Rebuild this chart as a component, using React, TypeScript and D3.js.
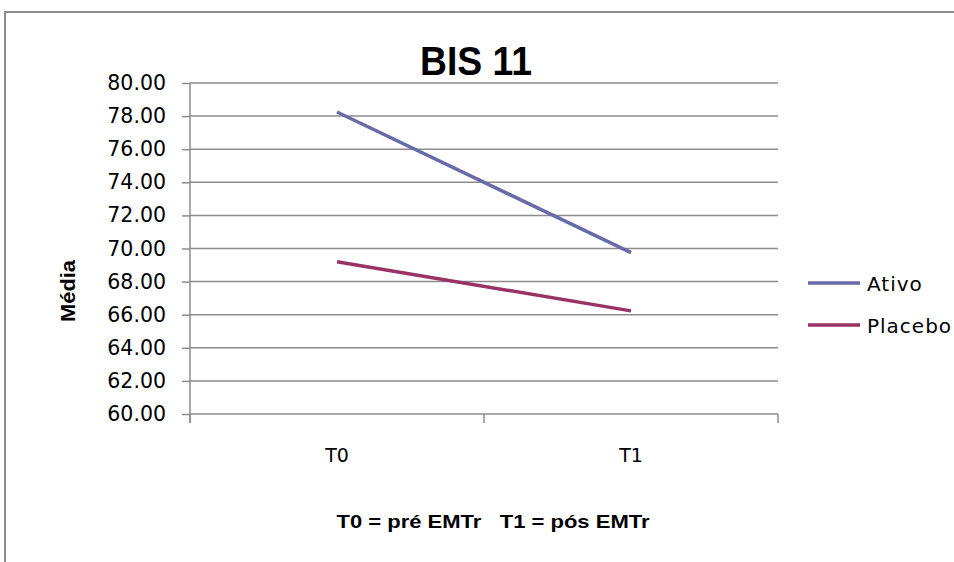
import React, { useEffect, useRef } from "react";
import * as d3 from "d3";

const width = 954;
const height = 562;
const margin = { top: 83, right: 176, bottom: 148, left: 190 };

// chart values
const categories = ["T0", "T1"];
const ativo = [78.25, 69.75];
const placebo = [69.2, 66.23];
const seriesNames = ["Ativo", "Placebo"];
const seriesColors = ["#6A6AA9", "#993366"];
const yDomain = [60, 80];

const gridColor = "#8C8C8C";
const font = "'DejaVu Sans', sans-serif";

export default function App() {
  const yAxisRef = useRef<SVGGElement>(null);

  const x = d3
    .scaleBand<string>()
    .domain(categories)
    .range([margin.left, width - margin.right]);
  const y = d3
    .scaleLinear()
    .domain(yDomain)
    .range([height - margin.bottom, margin.top]);

  const cx = (d: string) => (x(d) ?? 0) + x.bandwidth() / 2;
  const line = d3
    .line<number>()
    .x((_, i) => cx(categories[i]))
    .y((d) => y(d));

  const series = [ativo, placebo];
  const yTicks = d3.range(yDomain[0], yDomain[1] + 0.001, 2);
  const xTicks = [margin.left, ...categories.map((c) => (x(c) ?? 0) + x.bandwidth())];

  useEffect(() => {
    // y axis ticks + labels through d3
    const axis = d3
      .axisLeft(y)
      .tickValues(yTicks)
      .tickFormat(d3.format(".2f"))
      .tickSize(8)
      .tickPadding(16);
    const g = d3.select(yAxisRef.current!);
    g.call(axis);
    g.select(".domain").remove();
    g.selectAll(".tick line").attr("stroke", gridColor).attr("stroke-width", 1.5);
    g.selectAll(".tick text")
      .attr("font-family", font)
      .attr("font-size", 20.5)
      .attr("fill", "#000");
  }, []);

  const bottom = height - margin.bottom;

  return (
    <svg
      width={width}
      height={height}
      style={{ position: "absolute", left: 0, top: 0, background: "#fff" }}
    >
      {/* outer frame */}
      <path d={`M5,${height + 5}V12H${width + 5}`} fill="none" stroke="#8C8C8C" strokeWidth={2} />

      <text
        x={476}
        y={75}
        textAnchor="middle"
        fontFamily="'Liberation Sans', Arial, sans-serif"
        fontWeight="bold"
        fontSize={41}
        textLength={112}
        lengthAdjust="spacingAndGlyphs"
      >
        BIS 11
      </text>

      {/* grid */}
      {yTicks.map((t) => (
        <line
          key={t}
          x1={margin.left}
          x2={width - margin.right}
          y1={y(t)}
          y2={y(t)}
          stroke={gridColor}
          strokeWidth={1.5}
        />
      ))}
      <g ref={yAxisRef} transform={`translate(${margin.left},0)`} />
      <line x1={margin.left} x2={margin.left} y1={margin.top} y2={bottom + 9} stroke={gridColor} strokeWidth={1.5} />
      {xTicks.map((t, i) => (
        <line key={i} x1={t} x2={t} y1={bottom} y2={bottom + 9} stroke={gridColor} strokeWidth={1.5} />
      ))}

      {categories.map((c) => (
        <text key={c} x={cx(c)} y={462} textAnchor="middle" fontFamily={font} fontSize={19}>
          {c}
        </text>
      ))}

      {series.map((s, i) => (
        <path key={i} d={line(s) ?? ""} fill="none" stroke={seriesColors[i]} strokeWidth={3.5} />
      ))}

      {/* legend */}
      {seriesNames.map((n, i) => (
        <g key={n} transform={`translate(808,${283 + i * 42})`}>
          <line x1={0} x2={52} y1={0} y2={0} stroke={seriesColors[i]} strokeWidth={3.5} />
          <text x={59} y={8} fontFamily={font} fontSize={20} letterSpacing={1}>
            {n}
          </text>
        </g>
      ))}

      <text
        transform="translate(75,291) rotate(-90)"
        textAnchor="middle"
        fontFamily="'Liberation Sans', Arial, sans-serif"
        fontWeight="bold"
        fontSize={21}
        textLength={62}
        lengthAdjust="spacingAndGlyphs"
      >
        Média
      </text>

      <text
        x={493}
        y={528}
        textAnchor="middle"
        fontFamily="'Liberation Sans', Arial, sans-serif"
        fontWeight="bold"
        fontSize={19}
        textLength={313}
        lengthAdjust="spacingAndGlyphs"
        style={{ whiteSpace: "pre" }}
      >
        {"T0 = pré EMTr   T1 = pós EMTr"}
      </text>
    </svg>
  );
}
